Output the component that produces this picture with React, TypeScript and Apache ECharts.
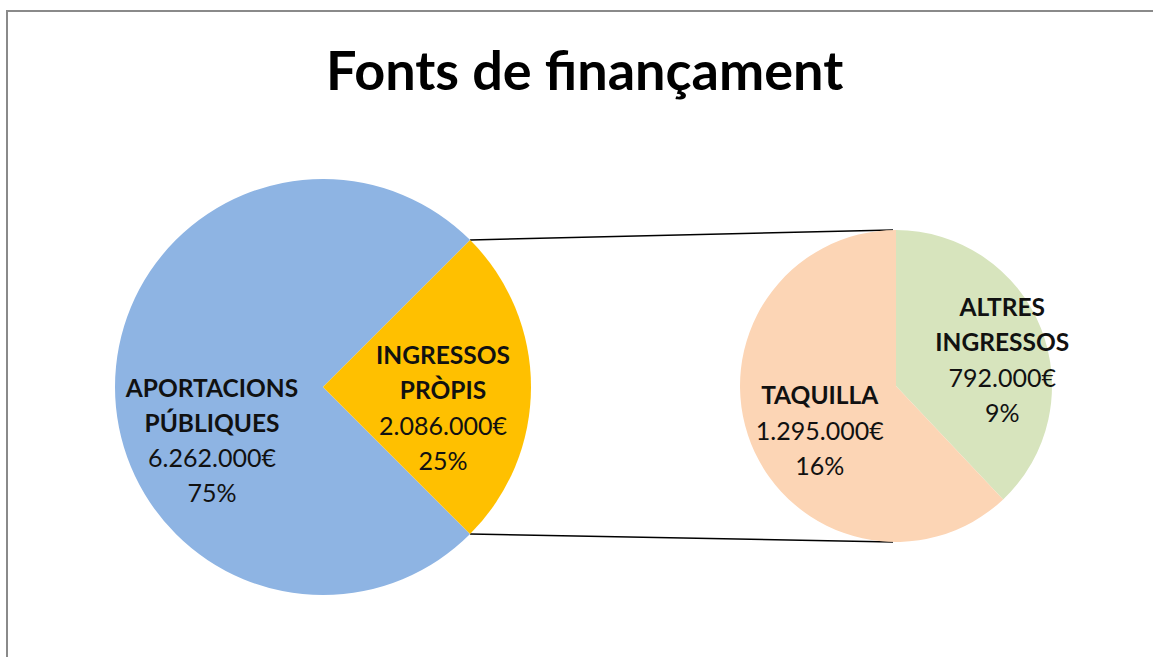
import React, { useEffect, useRef } from 'react';
import * as echarts from 'echarts';

const TITLE = 'Fonts de finançament';
const mainNames = ['APORTACIONS PÚBLIQUES', 'INGRESSOS PRÒPIS'];
const mainValues = [6262000, 2086000];
const subNames = ['ALTRES INGRESSOS', 'TAQUILLA'];
const subValues = [792000, 1295000];

const mainColors = ['#8EB4E3', '#FFC000'];
const subColors = ['#D7E4BD', '#FCD5B5'];

const total = mainValues.reduce((a, b) => a + b, 0);

const fmt = (v: number) => String(v).replace(/\B(?=(\d{3})+(?!\d))/g, '.') + '€';

const FONT = 'Lato';

const labelFormatter = (p: any) => {
  const nameLines = String(p.name).split(' ').map((w: string) => `{n|${w}}`).join('\n');
  return `${nameLines}\n{v|${fmt(p.value)}}\n{v|${Math.round((p.value / total) * 100)}%}`;
};

const rich = {
  n: { fontFamily: FONT, fontWeight: 'bold', fontSize: 24.5, lineHeight: 35, color: '#111' },
  v: { fontFamily: FONT, fontWeight: 'normal', fontSize: 25, lineHeight: 35, color: '#111' },
};

// pie geometry
const BIG = { cx: 323, cy: 387, r: 208 };
const SMALL = { cx: 896, cy: 386, r: 156 };

export default function App() {
  const ref = useRef<HTMLDivElement>(null);
  useEffect(() => {
    document.body.style.margin = '0';
    const chart = echarts.init(ref.current!, undefined, { renderer: 'svg' });
    const a = Math.PI / 4;
    const topBig = [BIG.cx + BIG.r * Math.cos(a), BIG.cy - BIG.r * Math.sin(a)];
    const botBig = [BIG.cx + BIG.r * Math.cos(a), BIG.cy + BIG.r * Math.sin(a)];
    const topSmall = [SMALL.cx - 3, SMALL.cy - SMALL.r];
    const botSmall = [SMALL.cx - 3, SMALL.cy + SMALL.r];
    chart.setOption({
      animation: false,
      backgroundColor: '#fff',
      title: {
        text: TITLE,
        left: 326,
        top: 42,
        padding: 0,
        textStyle: { fontFamily: FONT, fontWeight: 'bold', fontSize: 54, color: '#000' },
      },
      graphic: [
        {
          type: 'rect',
          z: -10,
          shape: { x: 7, y: 11, width: 1200, height: 700 },
          style: { fill: 'none', stroke: '#8a8a8a', lineWidth: 2 },
        },
        {
          type: 'line',
          z: 0,
          shape: { x1: topBig[0], y1: topBig[1], x2: topSmall[0], y2: topSmall[1] },
          style: { stroke: '#000', lineWidth: 1.5 },
        },
        {
          type: 'line',
          z: 0,
          shape: { x1: botBig[0], y1: botBig[1], x2: botSmall[0], y2: botSmall[1] },
          style: { stroke: '#000', lineWidth: 1.5 },
        },
      ],
      series: [
        {
          type: 'pie',
          center: [BIG.cx, BIG.cy],
          radius: [0, BIG.r],
          startAngle: -45,
          clockwise: true,
          avoidLabelOverlap: false,
          itemStyle: { borderWidth: 0 },
          label: { show: true, position: 'inside', formatter: labelFormatter, rich, align: 'center' },
          labelLine: { show: false },
          labelLayout: (p: any) => (p.dataIndex === 0 ? { dx: -4, dy: 53 } : { dx: 13, dy: 20 }),
          emphasis: { disabled: true },
          data: mainNames.map((n, i) => ({ name: n, value: mainValues[i], itemStyle: { color: mainColors[i] } })),
        },
        {
          type: 'pie',
          center: [SMALL.cx, SMALL.cy],
          radius: [0, SMALL.r],
          startAngle: 90,
          clockwise: true,
          avoidLabelOverlap: false,
          itemStyle: { borderWidth: 0 },
          label: { show: true, position: 'inside', formatter: labelFormatter, rich, align: 'center' },
          labelLine: { show: false },
          labelLayout: (p: any) => (p.dataIndex === 0 ? { dx: 31, dy: 3 } : { dx: -1, dy: 14 }),
          emphasis: { disabled: true },
          data: subNames.map((n, i) => ({ name: n, value: subValues[i], itemStyle: { color: subColors[i] } })),
        },
      ],
    });
    return () => chart.dispose();
  }, []);
  return <div ref={ref} style={{ width: 1153, height: 657 }} />;
}
